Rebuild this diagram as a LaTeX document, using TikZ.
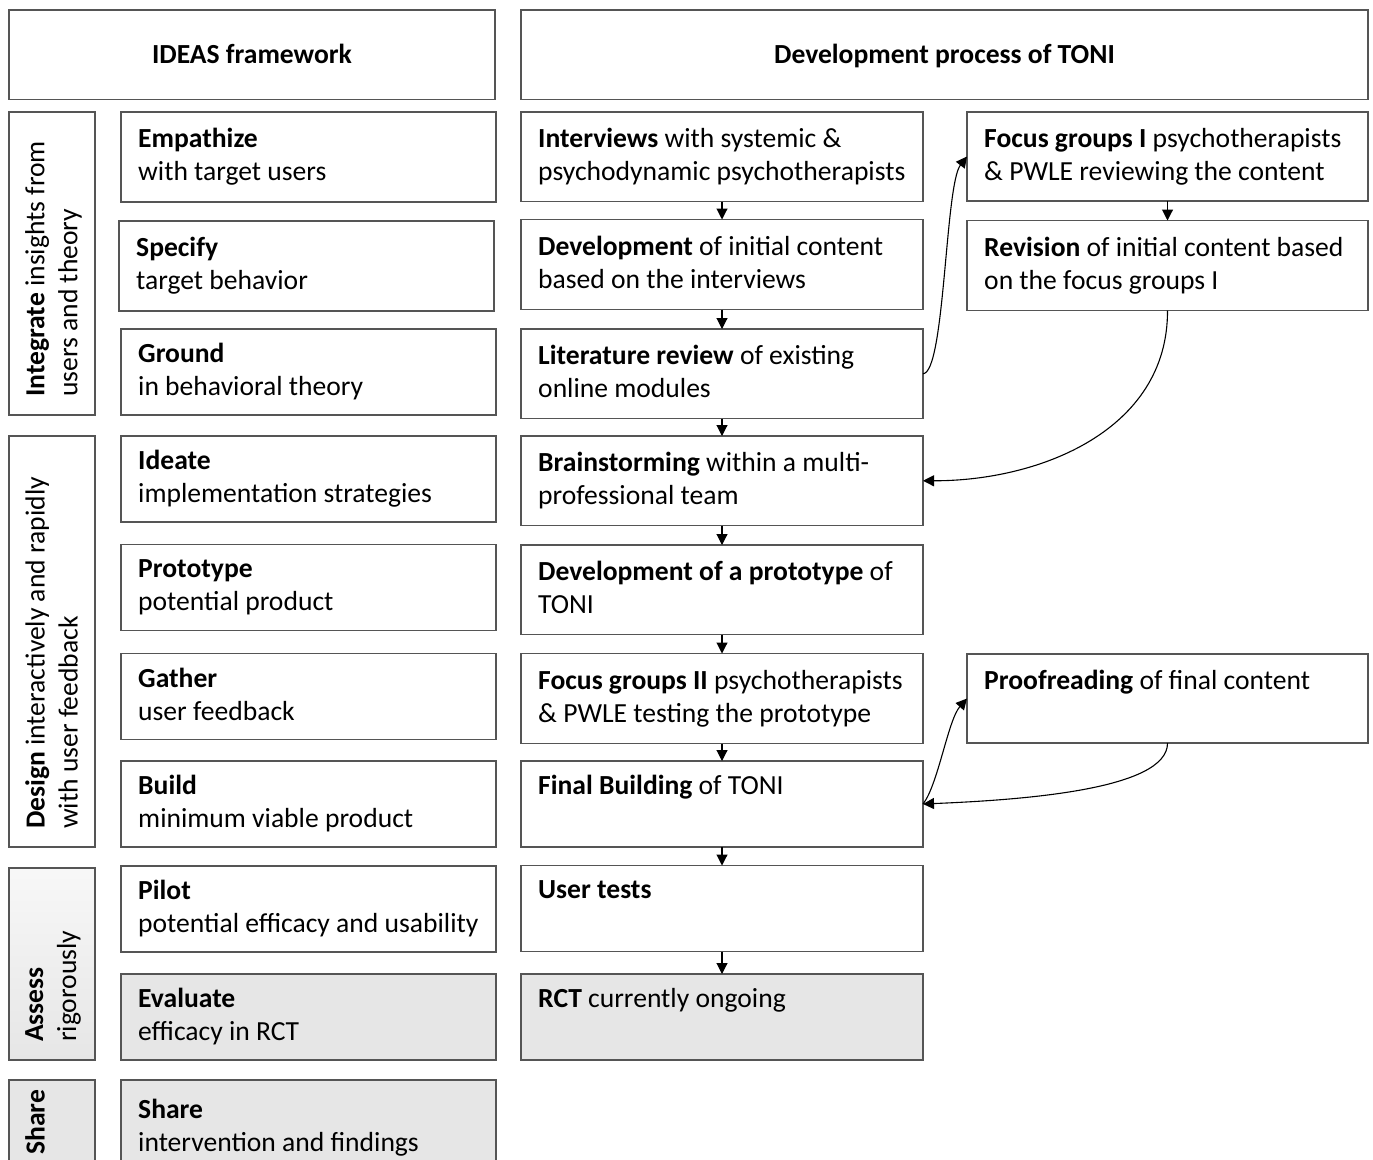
\documentclass[tikz,border=0pt]{standalone}
\usepackage{fontspec}
\setmainfont{Carlito}
\usetikzlibrary{arrows.meta}
\definecolor{bcol}{HTML}{555555}
\definecolor{gfill}{HTML}{E6E6E6}
\newcommand\mybox[8]{%
  \node[box,#6,minimum width=#4pt,minimum height=#5pt] (#1) at (#2,#3) {};
  \node[txt] (#1t) at ([xshift=17pt]#1.west) {\vphantom{Ag}#7\\\vphantom{Ag}#8};}
\begin{document}
\begin{tikzpicture}[x=1pt,y=-1pt,
  font=\fontsize{27.6}{33}\selectfont,
  box/.style={draw=bcol,line width=1.4pt,anchor=north west,inner sep=0pt,outer sep=0pt},
  txt/.style={anchor=west,align=left,inner sep=0pt},
  headtxt/.style={anchor=base,inner sep=0pt,yshift=-9pt,font=\fontsize{27.6}{33}\selectfont\bfseries},
  sidetxt/.style={rotate=90,anchor=north west,align=left,inner sep=0pt},
  gray/.style={fill=gfill},
  arr/.style={-{Triangle[length=11pt,width=11pt]},line width=1.1pt,black}]
\useasboundingbox (0,0) rectangle (1373,1159);
\clip (0,0) rectangle (1373,1159);
% headers
\node[box,minimum width=486pt,minimum height=89.5pt] (h1) at (9,10) {};
\node[headtxt] (h1t) at (h1.center) {IDEAS framework};
\node[box,minimum width=847pt,minimum height=89.5pt] (h2) at (521,10) {};
\node[headtxt] (h2t) at (h2.center) {Development process of TONI};
% side boxes
\node[box,minimum width=86pt,minimum height=303pt] (s1) at (9,112) {};
\node[sidetxt] (s1t) at (25,397) {\textbf{Integrate} insights from\\users and theory};
\node[box,minimum width=86pt,minimum height=411pt] (s2) at (9,436) {};
\node[sidetxt] (s2t) at (25,829) {\textbf{Design} interactively and rapidly\\with user feedback};
\node[box,minimum width=86pt,minimum height=192pt,top color=white!70!gfill,middle color=gfill,bottom color=gfill] (s3) at (9,868) {};
\node[sidetxt] (s3t) at (25,1042) {\textbf{Assess}\\rigorously};
\node[box,gray,minimum width=86pt,minimum height=95pt] (s4) at (9,1080) {};
\node[sidetxt] (s4t) at (25,1155) {\textbf{Share}};
% IDEAS column
\mybox{emp}{121}{112}{375}{90}{}{\textbf{Empathize}}{with target users}
\mybox{spe}{119}{221}{375}{90}{}{\textbf{Specify}}{target behavior}
\mybox{gro}{121}{329}{375}{86}{}{\textbf{Ground}}{in behavioral theory}
\mybox{ide}{121}{436}{375}{86}{}{\textbf{Ideate}}{implementation strategies}
\mybox{pro}{121}{544.5}{375}{86}{}{\textbf{Prototype}}{potential product}
\mybox{gat}{121}{653.5}{375}{86}{}{\textbf{Gather}}{user feedback}
\mybox{bui}{121}{761}{375}{86}{}{\textbf{Build}}{minimum viable product}
\mybox{pil}{121}{866}{375}{86}{}{\textbf{Pilot}}{potential efficacy and usability}
\mybox{eva}{121}{974}{375}{86}{gray}{\textbf{Evaluate}}{efficacy in RCT}
\mybox{sha}{121}{1080}{375}{95}{gray}{\textbf{Share}}{intervention and findings}
% development column
\mybox{int}{521}{112}{402}{89.5}{}{\textbf{Interviews} with systemic \&}{psychodynamic psychotherapists}
\mybox{dev}{521}{219.5}{402}{90}{}{\textbf{Development} of initial content}{based on the interviews}
\mybox{lit}{521}{329}{402}{89.5}{}{\textbf{Literature review} of existing}{online modules}
\mybox{bra}{521}{436}{402}{89.5}{}{\textbf{Brainstorming} within a multi-}{professional team}
\mybox{dpr}{521}{545}{402}{89.5}{}{\textbf{Development of a prototype} of}{TONI}
\mybox{fgb}{521}{653.5}{402}{90}{}{\textbf{Focus groups II} psychotherapists}{\& PWLE testing the prototype}
\mybox{fin}{521}{761}{402}{86}{}{\textbf{Final Building} of TONI}{}
\mybox{ust}{521}{865.5}{402}{86}{}{\textbf{User tests}}{}
\mybox{rct}{521}{974}{402}{86}{gray}{\textbf{RCT} currently ongoing}{}
% right column
\mybox{fga}{967}{112}{401}{89}{}{\textbf{Focus groups I} psychotherapists}{\& PWLE reviewing the content}
\mybox{rev}{967}{220.5}{401}{90}{}{\textbf{Revision} of initial content based}{on the focus groups I}
\mybox{prf}{967}{654}{401}{89}{}{\textbf{Proofreading} of final content}{}
% arrows
\draw[arr] (int.south) -- (dev.north);
\draw[arr] (dev.south) -- (lit.north);
\draw[arr] (lit.south) -- (bra.north);
\draw[arr] (bra.south) -- (dpr.north);
\draw[arr] (dpr.south) -- (fgb.north);
\draw[arr] (fgb.south) -- (fin.north);
\draw[arr] (fin.south) -- (ust.north);
\draw[arr] (ust.south) -- (rct.north);
\draw[arr] (fga.south) -- (rev.north);
\draw[arr] (lit.east) .. controls (945,373) and (945,185) .. (fga.west);
\draw[arr] (rev.south) .. controls (1168,430) and (1040,481) .. (bra.east);
\draw[arr] (fin.east) .. controls (938,785) and (948,720) .. (prf.west);
\draw[arr] (prf.south) .. controls (1168,790) and (1020,800) .. (fin.east);
\end{tikzpicture}
\end{document}
